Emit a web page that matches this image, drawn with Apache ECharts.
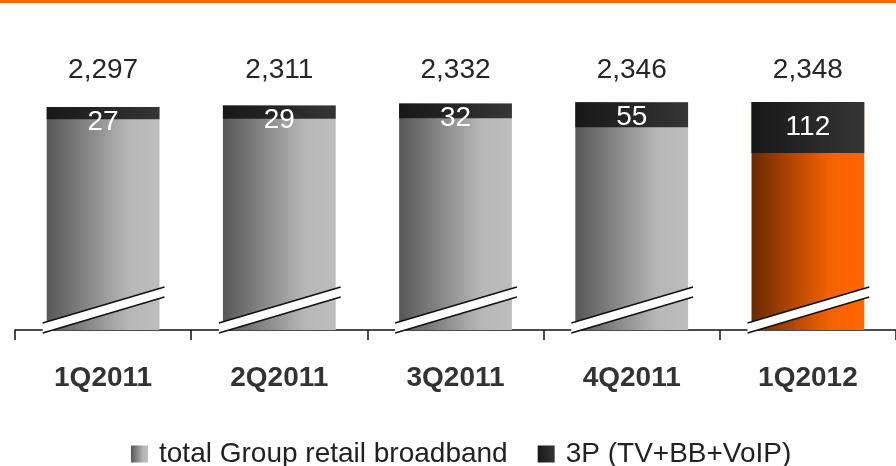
<!DOCTYPE html>
<html>
<head>
<meta charset="utf-8">
<script src="https://cdn.jsdelivr.net/npm/echarts@6/dist/echarts.min.js"></script>
<style>
  html, body { margin: 0; padding: 0; background: #fff; }
  #chart { width: 896px; height: 466px; }
</style>
</head>
<body>
<div id="chart"></div>
<script>
// Quarterly retail broadband customers (thousands) and the 3P share of them
const categories = ['1Q2011', '2Q2011', '3Q2011', '4Q2011', '1Q2012'];
const totalBroadband = [2297, 2311, 2332, 2346, 2348];
const triplePlay = [27, 29, 32, 55, 112];
const legendNames = ['total Group retail broadband', '3P (TV+BB+VoIP)'];

const FONT = '"Liberation Sans", Arial, Helvetica, sans-serif';
const BAR_RATIO = 0.64;
const highlightIndex = categories.length - 1;

const greyFill = new echarts.graphic.LinearGradient(0, 0, 1, 0, [
  { offset: 0, color: '#575757' },
  { offset: 0.72, color: '#b6b6b6' },
  { offset: 1, color: '#bdbdbd' }
]);
const orangeFill = new echarts.graphic.LinearGradient(0, 0, 1, 0, [
  { offset: 0, color: '#6a2a02' },
  { offset: 0.7, color: '#f46200' },
  { offset: 1, color: '#ff6600' }
]);
const darkFill = new echarts.graphic.LinearGradient(0, 0, 1, 0, [
  { offset: 0, color: '#181818' },
  { offset: 1, color: '#353535' }
]);

const chart = echarts.init(document.getElementById('chart'), null, { renderer: 'canvas' });

// 3P cap sits on top of each total bar; its height uses the secondary (hidden) axis
function renderCap(params, api) {
  const i = api.value(0);
  const p3 = api.value(1);
  const total = api.value(2);
  const base = api.coord([i, 0]);
  const bw = api.size([1, 0])[0] * BAR_RATIO;
  const cx = base[0];
  const baseY = base[1];
  const xL = cx - bw / 2;
  const xR = cx + bw / 2;
  const top = chart.convertToPixel({ yAxisIndex: 0 }, total);
  const capH = api.size([0, p3])[1];
  const labelY = top + Math.max(capH / 2, 15);

  // axis-break stripe across the foot of the bar
  const bL = xL - 4, bR = xR + 5;
  const upper = [[bL, baseY - 7], [bR, baseY - 43]];
  const lower = [[bL, baseY + 3], [bR, baseY - 33]];

  return {
    type: 'group',
    children: [
      {
        type: 'rect',
        shape: { x: xL, y: top, width: bw, height: capH },
        style: { fill: darkFill }
      },
      {
        type: 'text',
        x: cx, y: labelY,
        style: {
          text: String(p3), fill: '#ffffff', fontSize: 28, fontFamily: FONT,
          align: 'center', verticalAlign: 'middle'
        }
      },
      {
        type: 'text',
        x: cx, y: params.coordSys.y - 32,
        style: {
          text: total.toLocaleString('en-US'), fill: '#262626', fontSize: 28, fontFamily: FONT,
          align: 'center', verticalAlign: 'middle'
        }
      },
      {
        type: 'polygon',
        shape: { points: [upper[0], upper[1], lower[1], lower[0]] },
        style: { fill: '#ffffff' }
      },
      {
        type: 'line',
        shape: { x1: upper[0][0], y1: upper[0][1], x2: upper[1][0], y2: upper[1][1] },
        style: { stroke: '#111', lineWidth: 1.5 }
      },
      {
        type: 'line',
        shape: { x1: lower[0][0], y1: lower[0][1], x2: lower[1][0], y2: lower[1][1] },
        style: { stroke: '#111', lineWidth: 1.5 }
      }
    ]
  };
}

const option = {
  animation: false,
  backgroundColor: '#ffffff',
  graphic: [{
    type: 'rect',
    left: 0, top: 0,
    shape: { width: 896, height: 3 },
    style: { fill: '#ff6600' }
  }],
  grid: { left: 15, right: -7, top: 102, bottom: 136, containLabel: false },
  legend: {
    top: 435,
    left: 126,
    icon: 'rect',
    itemWidth: 17,
    itemHeight: 17,
    itemGap: 30,
    textStyle: { fontSize: 28, color: '#222', fontFamily: FONT, padding: [0, 0, 0, 6] },
    data: legendNames
  },
  xAxis: {
    type: 'category',
    data: categories,
    axisLine: { lineStyle: { color: '#111', width: 1.5 } },
    axisTick: { show: true, length: 10, lineStyle: { color: '#111', width: 1.5 } },
    axisLabel: {
      margin: 34, fontSize: 28, fontWeight: 'bold', color: '#333', fontFamily: FONT
    }
  },
  yAxis: [
    { type: 'value', min: 0, max: 'dataMax', show: false },
    { type: 'value', min: 0, max: 500, show: false }
  ],
  series: [
    {
      name: legendNames[0],
      type: 'bar',
      yAxisIndex: 0,
      barWidth: (BAR_RATIO * 100) + '%',
      itemStyle: { color: greyFill },
      data: totalBroadband.map((v, i) => i === highlightIndex
        ? { value: v, itemStyle: { color: orangeFill } }
        : v)
    },
    {
      name: legendNames[1],
      type: 'custom',
      yAxisIndex: 1,
      z: 5,
      itemStyle: { color: darkFill },
      renderItem: renderCap,
      encode: { x: 0, y: 1 },
      data: triplePlay.map((v, i) => [i, v, totalBroadband[i]])
    }
  ]
};

chart.setOption(option);
</script>
</body>
</html>
